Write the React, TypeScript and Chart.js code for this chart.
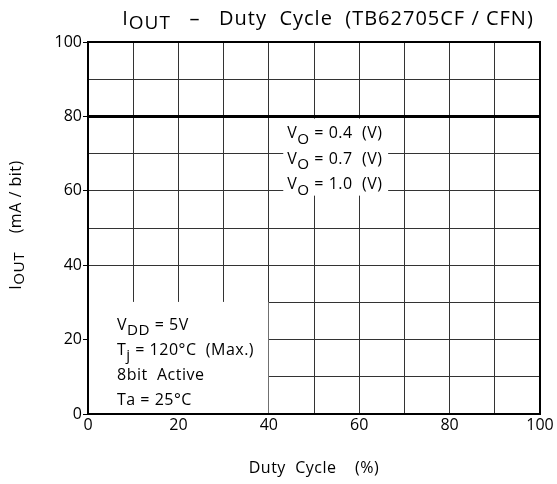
import React, { useEffect, useRef } from 'react';
import { Chart, registerables } from 'chart.js';
Chart.register(...registerables);

// ---- data ----
const dutyCycle = [0, 100];
const ioutMA = [80, 80];
const xMin = 0, xMax = 100, xStep = 10, xLabelEvery = 20;
const yMin = 0, yMax = 100, yStep = 10, yLabelEvery = 20;
const voValues = ['0.4', '0.7', '1.0'];
const vddText = '5V';
const tjText = '120°C  (Max.)';
const activeText = '8bit  Active';
const taText = 'Ta = 25°C';
const titleMain = '   –   Duty  Cycle  (TB62705CF / CFN)';
const xTitle = 'Duty  Cycle    (%)';
const yTitleUnit = '    (mA / bit)';

const FONT = '"Open Sans", "Noto Sans", sans-serif';
type Part = [string, boolean];

function rich(ctx: CanvasRenderingContext2D, parts: Part[], x: number, y: number, size: number, align: 'left' | 'center', spacing = 0, subShift = 0.33) {
  const subSize = size * 0.95;
  (ctx as any).letterSpacing = `${spacing}px`;
  let w = 0;
  for (const [t, s] of parts) {
    ctx.font = `${s ? subSize : size}px ${FONT}`;
    w += ctx.measureText(t).width;
  }
  let cx = align === 'center' ? x - w / 2 : x;
  for (const [t, s] of parts) {
    ctx.font = `${s ? subSize : size}px ${FONT}`;
    ctx.fillText(t, cx, s ? y + size * subShift : y);
    cx += ctx.measureText(t).width;
  }
  (ctx as any).letterSpacing = '0px';
}

const decorPlugin = {
  id: 'decor',
  beforeDatasetsDraw(chart: any) {
    const { ctx, chartArea, scales } = chart;
    const xs = scales.x, ys = scales.y;
    ctx.save();
    // lower-left condition box
    const bx0 = chartArea.left + 1;
    const bx1 = xs.getPixelForValue(40) - 0.5;
    const by0 = ys.getPixelForValue(30) - 0.5;
    const by1 = chartArea.bottom - 1;
    ctx.fillStyle = '#fff';
    ctx.fillRect(bx0, by0, bx1 - bx0, by1 - by0);
    // V_O box
    const vb0 = xs.getPixelForValue(43.2), vb1 = xs.getPixelForValue(66.4);
    const vt0 = ys.getPixelForValue(79.4), vt1 = ys.getPixelForValue(58.7);
    ctx.fillRect(vb0, vt0, vb1 - vb0, vt1 - vt0);
    ctx.fillStyle = '#000';
    ctx.textBaseline = 'alphabetic';
    const vx = xs.getPixelForValue(44.1);
    const vy0 = ys.getPixelForValue(80) + 22;
    voValues.forEach((v, i) => {
      rich(ctx, [['V', false], ['O', true], [' = ' + v + '  (V)', false]], vx, vy0 + i * 25.5, 16, 'left', 0.5);
    });
    const lx = chartArea.left + 29;
    const ly = by0 + 28;
    rich(ctx, [['V', false], ['DD', true], [' = ' + vddText, false]], lx, ly, 16, 'left', 0.5);
    rich(ctx, [['T', false], ['j', true], [' = ' + tjText, false]], lx, ly + 25, 16, 'left', 0.5);
    rich(ctx, [[activeText, false]], lx, ly + 50, 16, 'left', 0.5);
    rich(ctx, [[taText, false]], lx, ly + 75, 16, 'left', 0.5);
    ctx.restore();
  },
  afterDraw(chart: any) {
    const { ctx, chartArea } = chart;
    ctx.save();
    ctx.strokeStyle = '#000';
    ctx.lineWidth = 2;
    ctx.strokeRect(chartArea.left, chartArea.top, chartArea.right - chartArea.left, chartArea.bottom - chartArea.top);
    ctx.fillStyle = '#000';
    ctx.textBaseline = 'alphabetic';
    const cx = (chartArea.left + chartArea.right) / 2;
    rich(ctx, [['I', false], ['OUT', true], [titleMain, false]], 328, 25, 20, 'center', 1, 0.22);
    rich(ctx, [[xTitle, false]], cx, 473, 16, 'center', 0.5);
    ctx.save();
    ctx.translate(21, 225);
    ctx.rotate(-Math.PI / 2);
    rich(ctx, [['I', false], ['OUT', true], [yTitleUnit, false]], 0, 0, 16, 'center', 0.5, 0.2);
    ctx.restore();
    ctx.restore();
  },
};

export default function App() {
  const ref = useRef<HTMLCanvasElement>(null);
  useEffect(() => {
    document.body.style.margin = '0';
    const canvas = ref.current!;
    const chart = new Chart(canvas, {
      type: 'scatter',
      data: {
        datasets: [{
          data: dutyCycle.map((x, i) => ({ x, y: ioutMA[i] })),
          showLine: true,
          borderColor: '#000',
          borderWidth: 3,
          pointRadius: 0,
          fill: false,
        }],
      },
      options: {
        animation: false,
        responsive: false,
        maintainAspectRatio: false,
        layout: { padding: { top: 42, right: 17, left: 0, bottom: 0 } },
        plugins: { legend: { display: false }, tooltip: { enabled: false }, title: { display: false } },
        scales: {
          x: {
            type: 'linear', min: xMin, max: xMax,
            border: { display: false },
            grid: { color: '#333', lineWidth: 1, drawTicks: false },
            ticks: {
              stepSize: xStep, padding: 2, color: '#000', maxRotation: 0, autoSkip: false,
              font: { family: FONT, size: 16 },
              callback: (v: any) => (v % xLabelEvery === 0 ? String(v) : ''),
            },
            afterFit: (s: any) => { s.height = 70; },
          },
          y: {
            type: 'linear', min: yMin, max: yMax,
            border: { display: false },
            grid: {
              color: '#333', lineWidth: 1, drawTicks: true, tickLength: 5,
              tickColor: (c: any) => (c.tick && c.tick.value % yLabelEvery === 0 ? '#000' : 'rgba(0,0,0,0)'),
            },
            ticks: {
              stepSize: yStep, padding: 1, color: '#000', autoSkip: false,
              font: { family: FONT, size: 16 },
              callback: (v: any) => (v % yLabelEvery === 0 ? String(v) : ''),
            },
            afterFit: (s: any) => { s.width = 88; },
          },
        },
      },
      plugins: [decorPlugin],
    });
    return () => chart.destroy();
  }, []);
  return (
    <div style={{ width: 557, height: 484, background: '#fff' }}>
      <canvas ref={ref} width={557} height={484} />
    </div>
  );
}
